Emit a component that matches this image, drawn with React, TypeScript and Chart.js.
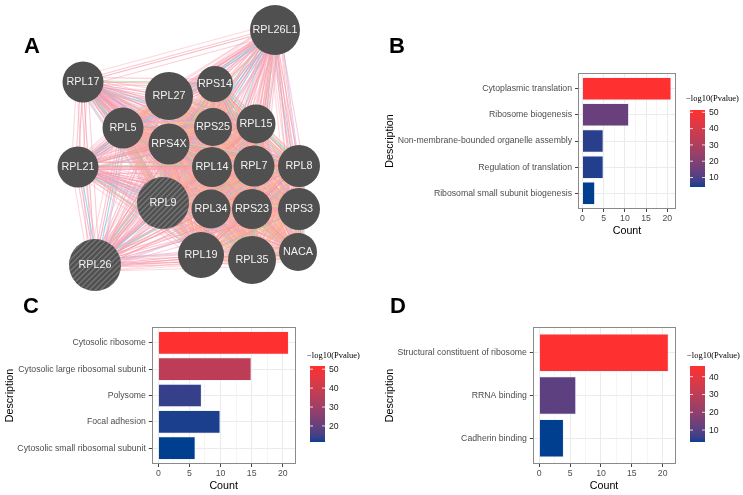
import React, { useEffect, useRef } from "react";
import { Chart, registerables } from "chart.js";
Chart.register(...registerables);

const SANS = '"Liberation Sans", Arial, Helvetica, sans-serif';
const SERIF = '"Liberation Serif", "Times New Roman", serif';

// ---------- Panel A: gene network ----------
const nodeNames = ["RPL26L1", "RPL17", "RPL27", "RPS14", "RPL5", "RPS25", "RPL15", "RPS4X", "RPL21", "RPL14", "RPL7", "RPL8", "RPL9", "RPL34", "RPS23", "RPS3", "RPL26", "RPL19", "RPL35", "NACA"];
const nodeX = [275, 83, 169, 215, 123, 213, 256, 169, 78, 212, 254, 299, 163, 211, 252, 299, 95, 201, 252, 298];
const nodeY = [30, 82, 96, 84, 128, 127, 124, 144, 167, 167, 166, 166, 203, 209, 209, 209, 265, 255, 260, 252];
const nodeSize = [25, 20.5, 24, 18, 20.5, 19, 19.5, 20.5, 20.5, 20, 20.5, 21, 26, 19.5, 20, 21, 26, 23, 24, 19];
const queryGenes = ["RPL9", "RPL26"];
const coreGenes = ["RPS25", "RPL15", "RPS4X", "RPL14", "RPL7", "RPL8", "RPL9", "RPL34", "RPS23", "RPS3", "RPL19", "RPL35", "NACA", "RPS14", "RPL27", "RPL5"];

// ---------- Panel B: biological process ----------
const bCategories = ["Cytoplasmic translation", "Ribosome biogenesis", "Non-membrane-bounded organelle assembly", "Regulation of translation", "Ribosomal small subunit biogenesis"];
const bCounts = [21, 11, 5, 5, 3];
const bLogP = [51.4, 14.6, 6.0, 5.5, 4.2];
const bLegendTicks = [10, 20, 30, 40, 50];

// ---------- Panel C: cellular component ----------
const cCategories = ["Cytosolic ribosome", "Cytosolic large ribosomal subunit", "Polysome", "Focal adhesion", "Cytosolic small ribosomal subunit"];
const cCounts = [21, 15, 7, 10, 6];
const cLogP = [51.7, 36.8, 14.0, 12.3, 11.5];
const cLegendTicks = [20, 30, 40, 50];

// ---------- Panel D: molecular function ----------
const dCategories = ["Structural constituent of ribosome", "RRNA binding", "Cadherin binding"];
const dCounts = [21, 6, 4];
const dLogP = [46.0, 10.6, 3.3];
const dLegendTicks = [10, 20, 30, 40];

const countTicks = [0, 5, 10, 15, 20];
const countMinorTicks = [2.5, 7.5, 12.5, 17.5];
const legendTitle = "\u2212log10(Pvalue)";

// ---------- colour gradient (Lab interpolation like ggplot) ----------
const LOW = "#003F8F";
const HIGH = "#FF3030";
function hexToRgb(h: string) {
  return [parseInt(h.slice(1, 3), 16), parseInt(h.slice(3, 5), 16), parseInt(h.slice(5, 7), 16)];
}
function toLin(c: number) {
  c /= 255;
  return c <= 0.04045 ? c / 12.92 : Math.pow((c + 0.055) / 1.055, 2.4);
}
function fromLin(c: number) {
  const v = c <= 0.0031308 ? 12.92 * c : 1.055 * Math.pow(c, 1 / 2.4) - 0.055;
  return Math.round(Math.max(0, Math.min(1, v)) * 255);
}
function rgbToLab(rgb: number[]) {
  const R = toLin(rgb[0]), G = toLin(rgb[1]), B = toLin(rgb[2]);
  const X = (0.4124 * R + 0.3576 * G + 0.1805 * B) / 0.95047;
  const Y = 0.2126 * R + 0.7152 * G + 0.0722 * B;
  const Z = (0.0193 * R + 0.1192 * G + 0.9505 * B) / 1.08883;
  const f = (t: number) => (t > 0.008856 ? Math.cbrt(t) : 7.787 * t + 16 / 116);
  const fx = f(X), fy = f(Y), fz = f(Z);
  return [116 * fy - 16, 500 * (fx - fy), 200 * (fy - fz)];
}
function labToRgb(lab: number[]) {
  const fy = (lab[0] + 16) / 116;
  const fx = fy + lab[1] / 500;
  const fz = fy - lab[2] / 200;
  const inv = (t: number) => (t * t * t > 0.008856 ? t * t * t : (t - 16 / 116) / 7.787);
  const X = 0.95047 * inv(fx), Y = inv(fy), Z = 1.08883 * inv(fz);
  const R = 3.2406 * X - 1.5372 * Y - 0.4986 * Z;
  const G = -0.9689 * X + 1.8758 * Y + 0.0415 * Z;
  const B = 0.0557 * X - 0.204 * Y + 1.057 * Z;
  return [fromLin(R), fromLin(G), fromLin(B)];
}
const LAB_LOW = rgbToLab(hexToRgb(LOW));
const LAB_HIGH = rgbToLab(hexToRgb(HIGH));
function gradColor(t: number) {
  t = Math.max(0, Math.min(1, t));
  const lab = [0, 1, 2].map((k) => LAB_LOW[k] + (LAB_HIGH[k] - LAB_LOW[k]) * t);
  const c = labToRgb(lab);
  return `rgb(${c[0]},${c[1]},${c[2]})`;
}

// ---------- bar panels ----------
type Geom = {
  left: number; top: number; width: number; height: number;
  yW: number; xH: number; padTop: number; padRight: number; padBottom: number;
  barX: number; barY: number; barW: number; barH: number; titleX: number; titleY: number;
};

function buildBarConfig(cats: string[], counts: number[], logp: number[], legendTicks: number[], g: Geom): any {
  const vmin = Math.min(...logp);
  const vmax = Math.max(...logp);
  const colors = logp.map((v) => gradColor((v - vmin) / (vmax - vmin)));
  const allTicks = [...countTicks, ...countMinorTicks].sort((a, b) => a - b);
  const axisFont = { family: SANS, size: 8.7 };
  const titleFont = { family: SANS, size: 10.7 };

  const decor = {
    id: "barDecor",
    afterDraw(chart: any) {
      const ctx = chart.ctx;
      const a = chart.chartArea;
      ctx.save();
      ctx.strokeStyle = "#8A8A8A";
      ctx.lineWidth = 1;
      ctx.strokeRect(Math.round(a.left) + 0.5, Math.round(a.top) + 0.5, Math.round(a.right - a.left) - 1, Math.round(a.bottom - a.top) - 1);

      for (let py = 0; py < g.barH; py++) {
        const t = 1 - (py + 0.5) / g.barH;
        ctx.fillStyle = gradColor(t);
        ctx.fillRect(g.barX, g.barY + py, g.barW, 1);
      }
      ctx.font = `8.5px ${SERIF}`;
      ctx.fillStyle = "#000";
      ctx.textAlign = "left";
      ctx.textBaseline = "middle";
      ctx.fillText(legendTitle, g.titleX, g.titleY);
      ctx.font = `8.7px ${SANS}`;
      ctx.fillStyle = "#222";
      ctx.strokeStyle = "#FFFFFF";
      ctx.lineWidth = 0.8;
      for (const v of legendTicks) {
        const y = g.barY + g.barH - ((v - vmin) / (vmax - vmin)) * g.barH;
        ctx.beginPath();
        ctx.moveTo(g.barX, y);
        ctx.lineTo(g.barX + 3, y);
        ctx.moveTo(g.barX + g.barW - 3, y);
        ctx.lineTo(g.barX + g.barW, y);
        ctx.stroke();
        ctx.fillText(String(v), g.barX + g.barW + 4, y + 0.5);
      }
      ctx.restore();
    },
  };

  return {
    type: "bar",
    data: {
      datasets: [
        {
          data: counts.map((c, i) => ({ x: c, y: i })),
          backgroundColor: colors,
          borderColor: "rgba(235,240,250,0.75)",
          borderWidth: 1,
          barPercentage: 0.9,
          categoryPercentage: 1,
        },
      ],
    },
    options: {
      indexAxis: "y",
      animation: false,
      responsive: false,
      devicePixelRatio: 1,
      layout: { padding: { left: 0, top: g.padTop, right: g.padRight, bottom: g.padBottom }, autoPadding: false },
      plugins: { legend: { display: false }, tooltip: { enabled: false } },
      scales: {
        x: {
          type: "linear",
          min: -1.05,
          max: 22.05,
          offset: false,
          afterBuildTicks: (s: any) => {
            s.ticks = allTicks.map((v) => ({ value: v }));
          },
          afterFit: (s: any) => {
            s.height = g.xH;
          },
          ticks: {
            autoSkip: false,
            maxRotation: 0,
            padding: 1,
            color: "#4D4D4D",
            font: axisFont,
            callback: (v: number) => (countTicks.includes(v) ? String(v) : ""),
          },
          grid: {
            offset: false,
            color: "#EBEBEB",
            lineWidth: (ctx: any) => (ctx.tick && countTicks.includes(ctx.tick.value) ? 1 : 0.5),
            tickColor: (ctx: any) => (ctx.tick && countTicks.includes(ctx.tick.value) ? "#444" : "rgba(0,0,0,0)"),
            tickLength: 3,
            drawTicks: true,
          },
          border: { display: false },
          title: { display: true, text: "Count", color: "#000", font: titleFont, padding: 0 },
        },
        y: {
          type: "linear",
          reverse: true,
          offset: false,
          min: -0.6,
          max: cats.length - 1 + 0.6,
          afterBuildTicks: (s: any) => {
            s.ticks = cats.map((_, i) => ({ value: i }));
          },
          afterFit: (s: any) => {
            s.width = g.yW;
          },
          ticks: {
            autoSkip: false,
            padding: 3,
            color: "#4D4D4D",
            font: axisFont,
            callback: (v: number) => cats[v] ?? "",
          },
          grid: { offset: false, color: "#EBEBEB", tickColor: "#444", tickLength: 3, drawTicks: true },
          border: { display: false },
          title: { display: true, text: "Description", color: "#000", font: titleFont, padding: { top: 3.6, bottom: 0 } },
        },
      },
    },
    plugins: [decor],
  };
}

function BarPanel(props: { cats: string[]; counts: number[]; logp: number[]; legendTicks: number[]; g: Geom }) {
  const ref = useRef<HTMLCanvasElement>(null);
  useEffect(() => {
    const chart = new Chart(ref.current as HTMLCanvasElement, buildBarConfig(props.cats, props.counts, props.logp, props.legendTicks, props.g));
    return () => chart.destroy();
  }, []);
  const g = props.g;
  return (
    <canvas
      ref={ref}
      width={g.width}
      height={g.height}
      style={{ position: "absolute", left: g.left, top: g.top, width: g.width, height: g.height }}
    />
  );
}

// ---------- network panel ----------
function NetworkPanel() {
  const ref = useRef<HTMLCanvasElement>(null);
  useEffect(() => {
    const edgePlugin = {
      id: "network",
      beforeDatasetsDraw(chart: any) {
        const ctx = chart.ctx;
        const pts = chart.getDatasetMeta(0).data;
        const n = pts.length;
        ctx.save();
        ctx.lineWidth = 1.1;
        const line = (i: number, j: number, off: number, color: string) => {
          const x1 = pts[i].x, y1 = pts[i].y, x2 = pts[j].x, y2 = pts[j].y;
          const dx = x2 - x1, dy = y2 - y1;
          const len = Math.hypot(dx, dy) || 1;
          const ox = (-dy / len) * off, oy = (dx / len) * off;
          ctx.strokeStyle = color;
          ctx.beginPath();
          ctx.moveTo(x1 + ox, y1 + oy);
          ctx.lineTo(x2 + ox, y2 + oy);
          ctx.stroke();
        };
        for (let i = 0; i < n; i++) {
          for (let j = i + 1; j < n; j++) {
            const a = nodeNames[i], b = nodeNames[j];
            const core = coreGenes.includes(a) && coreGenes.includes(b);
            line(i, j, 0, "rgba(246,150,168,0.7)");
            line(i, j, 2.4, "rgba(248,160,178,0.6)");
            line(i, j, -4.6, "rgba(248,165,180,0.55)");
            line(i, j, 6.5, "rgba(248,170,185,0.45)");
            if ((i * 3 + j) % 4 === 0) line(i, j, -2.2, "rgba(110,200,232,0.7)");
            if ((i + j * 5) % 6 === 1) line(i, j, 5, "rgba(130,205,230,0.6)");
            if (core) line(i, j, 3.6, "rgba(252,190,120,0.65)");
            if (core && (i + j) % 2 === 0) line(i, j, -3.4, "rgba(250,200,130,0.6)");
            if (core && (i + j) % 3 === 0) line(i, j, 1.2, "rgba(252,185,120,0.55)");
            if ((i + 2 * j) % 7 === 0) line(i, j, -1.2, "rgba(170,212,140,0.65)");
            if ((i + j) % 5 === 0) line(i, j, -5.8, "rgba(190,170,225,0.55)");
          }
        }
        ctx.restore();
      },
      afterDatasetsDraw(chart: any) {
        const ctx = chart.ctx;
        const pts = chart.getDatasetMeta(0).data;
        ctx.save();
        pts.forEach((p: any, i: number) => {
          const r = nodeSize[i];
          if (queryGenes.includes(nodeNames[i])) {
            ctx.save();
            ctx.beginPath();
            ctx.arc(p.x, p.y, r, 0, Math.PI * 2);
            ctx.clip();
            ctx.strokeStyle = "rgba(150,150,150,0.55)";
            ctx.lineWidth = 1.3;
            for (let k = -2 * r; k <= 2 * r; k += 5.5) {
              ctx.beginPath();
              ctx.moveTo(p.x + k - r, p.y + r);
              ctx.lineTo(p.x + k + r, p.y - r);
              ctx.stroke();
            }
            ctx.restore();
          }
          ctx.font = `10.8px ${SANS}`;
          ctx.fillStyle = "#F2F2F2";
          ctx.textAlign = "center";
          ctx.textBaseline = "middle";
          ctx.fillText(nodeNames[i], p.x, p.y + 0.5);
        });
        ctx.restore();
      },
    };
    const chart = new Chart(ref.current as HTMLCanvasElement, {
      type: "bubble",
      data: {
        datasets: [
          {
            data: nodeNames.map((_, i) => ({ x: nodeX[i], y: nodeY[i], r: nodeSize[i] })),
            backgroundColor: "#505050",
            borderWidth: 0,
          },
        ],
      },
      options: {
        animation: false,
        responsive: false,
        devicePixelRatio: 1,
        layout: { padding: 0, autoPadding: false },
        plugins: { legend: { display: false }, tooltip: { enabled: false } },
        scales: {
          x: { type: "linear", min: 0, max: 380, display: false },
          y: { type: "linear", min: 0, max: 295, reverse: true, display: false },
        },
      } as any,
      plugins: [edgePlugin],
    } as any);
    return () => chart.destroy();
  }, []);
  return <canvas ref={ref} width={380} height={295} style={{ position: "absolute", left: 0, top: 0, width: 380, height: 295 }} />;
}

const letter = (text: string, left: number, top: number) => (
  <div style={{ position: "absolute", left, top, font: `bold 22px ${SANS}`, lineHeight: "22px", color: "#000" }}>{text}</div>
);

const geomB: Geom = { left: 380, top: 0, width: 363, height: 250, yW: 198, xH: 28.4, padTop: 73, padRight: 67, padBottom: 12.6, barX: 310, barY: 110, barW: 15, barH: 77, titleX: 306, titleY: 99 };
const geomC: Geom = { left: 0, top: 295, width: 380, height: 200, yW: 151.8, xH: 28.4, padTop: 32, padRight: 84.5, padBottom: 2.6, barX: 310, barY: 71, barW: 15, barH: 76, titleX: 307, titleY: 61 };
const geomD: Geom = { left: 380, top: 295, width: 363, height: 200, yW: 152.8, xH: 28.4, padTop: 32, padRight: 67.7, padBottom: 2.6, barX: 310, barY: 71, barW: 15, barH: 76, titleX: 307, titleY: 61 };

export default function App() {
  return (
    <div style={{ position: "absolute", left: 0, top: 0, width: 743, height: 495, background: "#fff", overflow: "hidden" }}>
      <NetworkPanel />
      <BarPanel cats={bCategories} counts={bCounts} logp={bLogP} legendTicks={bLegendTicks} g={geomB} />
      <BarPanel cats={cCategories} counts={cCounts} logp={cLogP} legendTicks={cLegendTicks} g={geomC} />
      <BarPanel cats={dCategories} counts={dCounts} logp={dLogP} legendTicks={dLegendTicks} g={geomD} />
      {letter("A", 24, 35)}
      {letter("B", 389, 35)}
      {letter("C", 23, 295)}
      {letter("D", 390, 295)}
    </div>
  );
}
